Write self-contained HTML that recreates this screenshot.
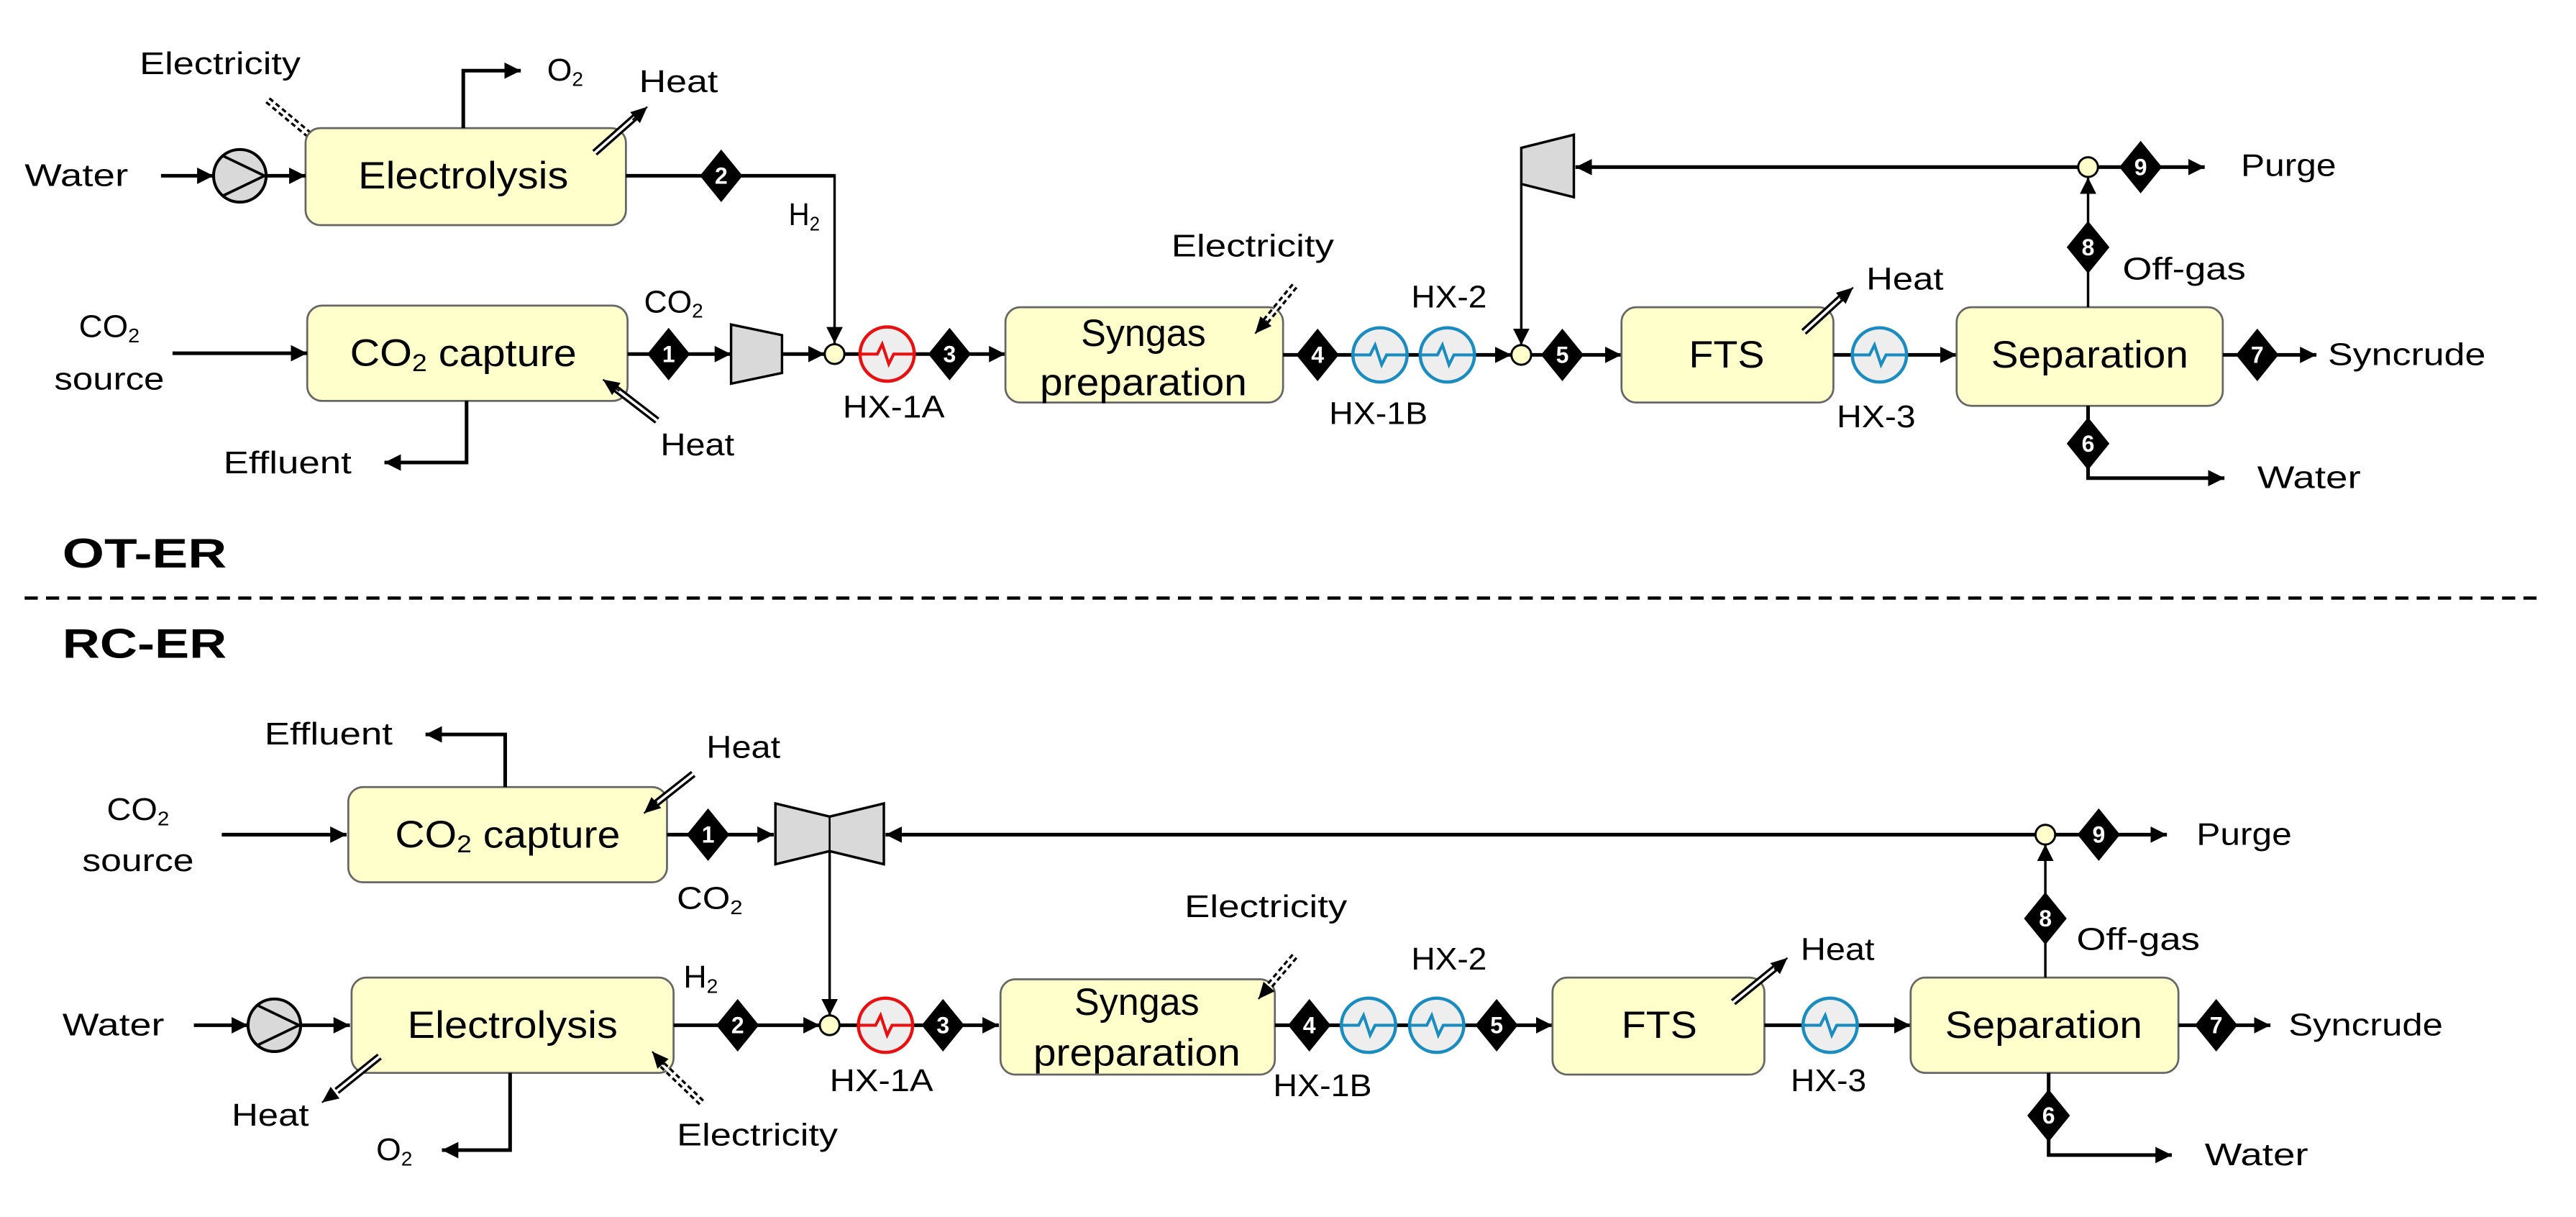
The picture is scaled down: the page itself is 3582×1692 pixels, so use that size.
<!DOCTYPE html>
<html><head><meta charset="utf-8"><style>
html,body{margin:0;padding:0;background:#fff}
svg{display:block}
text{font-family:"Liberation Sans",sans-serif;fill:#000;dominant-baseline:central}
.l{font-size:19px}
.b{font-size:23px;text-anchor:middle}
.n{font-size:14px;font-weight:bold;fill:#fff;text-anchor:middle}
.t{font-size:25px;font-weight:bold}
.s{stroke:#000;stroke-width:2.2;fill:none}
.s1{stroke:#000;stroke-width:1.5;fill:none}
.box{fill:#ffffcc;stroke:#666;stroke-width:1.2}
</style></head><body>
<svg width="3582" height="1692" viewBox="0 0 1568 740.7" preserveAspectRatio="none" xmlns="http://www.w3.org/2000/svg">
<defs>
<marker id="a" markerUnits="userSpaceOnUse" markerWidth="12" markerHeight="12" refX="10" refY="5" orient="auto"><path d="M0,0 L10,5 L0,10 z" fill="#000"/></marker>
<marker id="c" markerUnits="userSpaceOnUse" markerWidth="12" markerHeight="12" refX="10" refY="5" orient="auto"><path d="M0,0.5 L10,5 L0,9.5 z" fill="#000"/></marker>
<g id="hxr"><circle r="16.5" fill="#eee" stroke="#e81010" stroke-width="2"/><path d="M-16,0 H-6 L-3,-6 L1,6 L4,0 H16" stroke="#e81010" stroke-width="1.8" fill="none"/></g>
<g id="hxb"><circle r="16.5" fill="#eee" stroke="#1a8cc0" stroke-width="2"/><path d="M-16,0 H-6 L-3,-6 L1,6 L4,0 H16" stroke="#1a8cc0" stroke-width="1.8" fill="none"/></g>
<g id="pump"><circle r="16" fill="#d9d9d9" stroke="#000" stroke-width="1.8"/><path d="M-10,-12 L15,0 L-10,12" stroke="#000" stroke-width="1.6" fill="none"/></g>
<g id="dm"><polygon points="0,-16 13,0 0,16 -13,0" fill="#000"/></g>
</defs>

<!-- ================= OT-ER ================= -->
<line x1="163" y1="61" x2="193" y2="86" stroke="#000" stroke-width="4.5" stroke-dasharray="3,2"/>
<line x1="163" y1="61" x2="193" y2="86" stroke="#fff" stroke-width="1.6"/>
<line x1="190" y1="84" x2="198" y2="92" stroke="#000" stroke-width="1" marker-end="url(#c)"/>
<text class="l" x="85" y="39" textLength="98" lengthAdjust="spacingAndGlyphs">Electricity</text>

<rect class="box" x="186" y="78" width="195" height="59" rx="9"/>
<text class="b" x="282" y="107" textLength="128" lengthAdjust="spacingAndGlyphs">Electrolysis</text>
<path class="s" d="M282,78 V43 H317" marker-end="url(#a)"/>
<text class="l" x="333" y="43" textLength="22" lengthAdjust="spacingAndGlyphs">O<tspan font-size="12" dy="5">2</tspan></text>
<line x1="362" y1="93" x2="388" y2="70" stroke="#000" stroke-width="4.5"/>
<line x1="362" y1="93" x2="388" y2="70" stroke="#fff" stroke-width="1.6"/>
<line x1="385" y1="73" x2="394" y2="65" stroke="#000" stroke-width="1" marker-end="url(#c)"/>
<text class="l" x="389" y="50" textLength="48" lengthAdjust="spacingAndGlyphs">Heat</text>

<text class="l" x="15" y="107" textLength="63" lengthAdjust="spacingAndGlyphs">Water</text>
<path class="s" d="M98,107 H130" marker-end="url(#a)"/>
<use href="#pump" x="146" y="107"/>
<path class="s" d="M162,107 H186" marker-end="url(#a)"/>

<path class="s" d="M381,107 H508"/>
<path class="s1" d="M508,106 V209" marker-end="url(#a)"/>
<use href="#dm" x="439" y="107"/><text class="n" x="439" y="107">2</text>
<text class="l" x="480" y="131" textLength="19" lengthAdjust="spacingAndGlyphs">H<tspan font-size="12" dy="5">2</tspan></text>

<rect class="box" x="187" y="186" width="195" height="58" rx="9"/>
<text class="b" x="282" y="215" textLength="138" lengthAdjust="spacingAndGlyphs">CO<tspan font-size="15" dy="6">2</tspan><tspan dy="-6"> capture</tspan></text>
<text class="l" x="48" y="199" textLength="37" lengthAdjust="spacingAndGlyphs">CO<tspan font-size="12" dy="5">2</tspan></text>
<text class="l" x="33" y="231" textLength="67" lengthAdjust="spacingAndGlyphs">source</text>
<path class="s" d="M105,215 H187" marker-end="url(#a)"/>
<path class="s" d="M284,244 V281.5 H234" marker-end="url(#a)"/>
<text class="l" x="136" y="282" textLength="78" lengthAdjust="spacingAndGlyphs">Effluent</text>
<line x1="400" y1="256" x2="374" y2="236" stroke="#000" stroke-width="4.5"/>
<line x1="400" y1="256" x2="374" y2="236" stroke="#fff" stroke-width="1.6"/>
<line x1="377" y1="238" x2="367" y2="231" stroke="#000" stroke-width="1" marker-end="url(#c)"/>
<text class="l" x="402" y="271" textLength="45" lengthAdjust="spacingAndGlyphs">Heat</text>
<text class="l" x="392" y="184" textLength="36" lengthAdjust="spacingAndGlyphs">CO<tspan font-size="12" dy="5">2</tspan></text>

<path class="s" d="M382,215.5 H445" marker-end="url(#a)"/>
<use href="#dm" x="407" y="215.5"/><text class="n" x="407" y="215.5">1</text>
<polygon points="445,197.5 476,204 476,227 445,233.5" fill="#d9d9d9" stroke="#000" stroke-width="1.5"/>
<path class="s" d="M476,215.5 H502" marker-end="url(#a)"/>
<path class="s" d="M514,215.5 H612" marker-end="url(#a)"/>
<circle cx="508" cy="215.5" r="6" fill="#ffffcc" stroke="#000" stroke-width="1.3"/>
<use href="#hxr" x="540" y="215.5"/>
<use href="#dm" x="578" y="215.5"/><text class="n" x="578" y="215.5">3</text>
<text class="l" x="513" y="248" textLength="62" lengthAdjust="spacingAndGlyphs">HX-1A</text>

<rect class="box" x="612" y="187" width="169" height="58" rx="9"/>
<text class="b" x="696" y="203" textLength="76" lengthAdjust="spacingAndGlyphs">Syngas</text>
<text class="b" x="696" y="233" textLength="126" lengthAdjust="spacingAndGlyphs">preparation</text>
<text class="l" x="713" y="150" textLength="99" lengthAdjust="spacingAndGlyphs">Electricity</text>
<line x1="788" y1="174" x2="770" y2="196" stroke="#000" stroke-width="4.5" stroke-dasharray="3,2"/>
<line x1="788" y1="174" x2="770" y2="196" stroke="#fff" stroke-width="1.6"/>
<line x1="771" y1="195" x2="764" y2="203" stroke="#000" stroke-width="1" marker-end="url(#c)"/>

<path class="s" d="M781,216 H920" marker-end="url(#a)"/>
<path class="s" d="M932,216 H987" marker-end="url(#a)"/>
<use href="#dm" x="802" y="216"/><text class="n" x="802" y="216">4</text>
<use href="#hxb" x="840" y="216"/>
<use href="#hxb" x="881" y="216"/>
<circle cx="926" cy="216" r="6" fill="#ffffcc" stroke="#000" stroke-width="1.3"/>
<use href="#dm" x="951" y="216"/><text class="n" x="951" y="216">5</text>
<text class="l" x="859" y="181" textLength="46" lengthAdjust="spacingAndGlyphs">HX-2</text>
<text class="l" x="809" y="252" textLength="60" lengthAdjust="spacingAndGlyphs">HX-1B</text>

<polygon points="926,90 958,82 958,120 926,112" fill="#d9d9d9" stroke="#000" stroke-width="1.5"/>
<path class="s1" d="M926,112 V210" marker-end="url(#a)"/>
<path class="s" d="M1265,101.7 H959" marker-end="url(#a)"/>

<rect class="box" x="987" y="187" width="129" height="58" rx="9"/>
<text class="b" x="1051" y="216" textLength="46" lengthAdjust="spacingAndGlyphs">FTS</text>
<line x1="1098" y1="202" x2="1122" y2="180" stroke="#000" stroke-width="4.5"/>
<line x1="1098" y1="202" x2="1122" y2="180" stroke="#fff" stroke-width="1.6"/>
<line x1="1120" y1="182" x2="1128" y2="175" stroke="#000" stroke-width="1" marker-end="url(#c)"/>
<text class="l" x="1136" y="170" textLength="47" lengthAdjust="spacingAndGlyphs">Heat</text>
<path class="s" d="M1116,216 H1191" marker-end="url(#a)"/>
<use href="#hxb" x="1144" y="216"/>
<text class="l" x="1118" y="254" textLength="48" lengthAdjust="spacingAndGlyphs">HX-3</text>

<rect class="box" x="1191" y="187" width="162" height="60" rx="9"/>
<text class="b" x="1272" y="216" textLength="120" lengthAdjust="spacingAndGlyphs">Separation</text>
<path class="s" d="M1353,216 H1410" marker-end="url(#a)"/>
<use href="#dm" x="1374" y="216"/><text class="n" x="1374" y="216">7</text>
<text class="l" x="1417" y="216" textLength="96" lengthAdjust="spacingAndGlyphs">Syncrude</text>
<path class="s1" d="M1271,187 V108" marker-end="url(#a)"/>
<use href="#dm" x="1271" y="150.5"/><text class="n" x="1271" y="150.5">8</text>
<text class="l" x="1292" y="164" textLength="75" lengthAdjust="spacingAndGlyphs">Off-gas</text>
<path class="s" d="M1277,101.7 H1342" marker-end="url(#a)"/>
<circle cx="1271" cy="101.7" r="6" fill="#ffffcc" stroke="#000" stroke-width="1.3"/>
<use href="#dm" x="1303" y="101.7"/><text class="n" x="1303" y="101.7">9</text>
<text class="l" x="1364" y="101" textLength="58" lengthAdjust="spacingAndGlyphs">Purge</text>
<path class="s" d="M1271,247 V291 H1354" marker-end="url(#a)"/>
<use href="#dm" x="1271" y="270"/><text class="n" x="1271" y="270">6</text>
<text class="l" x="1374" y="291" textLength="63" lengthAdjust="spacingAndGlyphs">Water</text>

<text class="t" x="38" y="337" textLength="100" lengthAdjust="spacingAndGlyphs">OT-ER</text>
<line x1="15" y1="364" x2="1548" y2="364" stroke="#000" stroke-width="2" stroke-dasharray="8,5"/>
<text class="t" x="38" y="392" textLength="100" lengthAdjust="spacingAndGlyphs">RC-ER</text>

<!-- ================= RC-ER ================= -->
<rect class="box" x="212" y="479" width="194" height="58" rx="9"/>
<text class="b" x="309" y="508" textLength="137" lengthAdjust="spacingAndGlyphs">CO<tspan font-size="15" dy="6">2</tspan><tspan dy="-6"> capture</tspan></text>
<path class="s" d="M307.5,479 V447 H259" marker-end="url(#a)"/>
<text class="l" x="161" y="447" textLength="78" lengthAdjust="spacingAndGlyphs">Effluent</text>
<line x1="422" y1="471" x2="398" y2="490" stroke="#000" stroke-width="4.5"/>
<line x1="422" y1="471" x2="398" y2="490" stroke="#fff" stroke-width="1.6"/>
<line x1="400" y1="488" x2="392" y2="495" stroke="#000" stroke-width="1" marker-end="url(#c)"/>
<text class="l" x="430" y="455" textLength="45" lengthAdjust="spacingAndGlyphs">Heat</text>
<text class="l" x="65" y="493" textLength="38" lengthAdjust="spacingAndGlyphs">CO<tspan font-size="12" dy="5">2</tspan></text>
<text class="l" x="50" y="524" textLength="68" lengthAdjust="spacingAndGlyphs">source</text>
<path class="s" d="M135,508 H211" marker-end="url(#a)"/>
<path class="s" d="M406,508 H471" marker-end="url(#a)"/>
<use href="#dm" x="431" y="508"/><text class="n" x="431" y="508">1</text>
<text class="l" x="412" y="547" textLength="40" lengthAdjust="spacingAndGlyphs">CO<tspan font-size="12" dy="5">2</tspan></text>
<polygon points="472,489 505,497 538,489 538,526 505,518 472,526" fill="#d9d9d9" stroke="#000" stroke-width="1.5"/>
<line x1="505" y1="497" x2="505" y2="518" stroke="#000" stroke-width="1.2"/>
<path class="s" d="M1239,508 H539" marker-end="url(#a)"/>
<path class="s1" d="M505,518 V618" marker-end="url(#a)"/>

<rect class="box" x="214" y="595" width="196" height="58" rx="9"/>
<text class="b" x="312" y="624" textLength="128" lengthAdjust="spacingAndGlyphs">Electrolysis</text>
<text class="l" x="38" y="624" textLength="62" lengthAdjust="spacingAndGlyphs">Water</text>
<path class="s" d="M118,624 H151" marker-end="url(#a)"/>
<use href="#pump" x="167" y="624"/>
<path class="s" d="M183,624 H213" marker-end="url(#a)"/>
<line x1="231" y1="643" x2="205" y2="664" stroke="#000" stroke-width="4.5"/>
<line x1="231" y1="643" x2="205" y2="664" stroke="#fff" stroke-width="1.6"/>
<line x1="204" y1="665" x2="196" y2="671" stroke="#000" stroke-width="1" marker-end="url(#c)"/>
<text class="l" x="141" y="679" textLength="47" lengthAdjust="spacingAndGlyphs">Heat</text>
<path class="s" d="M310.5,653 V700 H269" marker-end="url(#a)"/>
<text class="l" x="229" y="700" textLength="22" lengthAdjust="spacingAndGlyphs">O<tspan font-size="12" dy="5">2</tspan></text>
<line x1="427" y1="671" x2="402" y2="647" stroke="#000" stroke-width="4.5" stroke-dasharray="3,2"/>
<line x1="427" y1="671" x2="402" y2="647" stroke="#fff" stroke-width="1.6"/>
<line x1="404" y1="648" x2="397" y2="640" stroke="#000" stroke-width="1" marker-end="url(#c)"/>
<text class="l" x="412" y="691" textLength="98" lengthAdjust="spacingAndGlyphs">Electricity</text>
<text class="l" x="416" y="595" textLength="21" lengthAdjust="spacingAndGlyphs">H<tspan font-size="12" dy="5">2</tspan></text>
<path class="s" d="M410,624 H499" marker-end="url(#a)"/>
<use href="#dm" x="449" y="624"/><text class="n" x="449" y="624">2</text>
<circle cx="505" cy="624" r="6" fill="#ffffcc" stroke="#000" stroke-width="1.3"/>
<path class="s" d="M511,624 H608" marker-end="url(#a)"/>
<use href="#hxr" x="539" y="624"/>
<use href="#dm" x="574" y="624"/><text class="n" x="574" y="624">3</text>
<text class="l" x="505" y="658" textLength="63" lengthAdjust="spacingAndGlyphs">HX-1A</text>

<rect class="box" x="609" y="596" width="167" height="58" rx="9"/>
<text class="b" x="692" y="610" textLength="76" lengthAdjust="spacingAndGlyphs">Syngas</text>
<text class="b" x="692" y="641" textLength="126" lengthAdjust="spacingAndGlyphs">preparation</text>
<text class="l" x="721" y="552" textLength="99" lengthAdjust="spacingAndGlyphs">Electricity</text>
<line x1="788" y1="582" x2="771" y2="602" stroke="#000" stroke-width="4.5" stroke-dasharray="3,2"/>
<line x1="788" y1="582" x2="771" y2="602" stroke="#fff" stroke-width="1.6"/>
<line x1="772" y1="601" x2="766" y2="608" stroke="#000" stroke-width="1" marker-end="url(#c)"/>

<path class="s" d="M776,624 H945" marker-end="url(#a)"/>
<use href="#dm" x="797" y="624"/><text class="n" x="797" y="624">4</text>
<use href="#hxb" x="833" y="624"/>
<use href="#hxb" x="874.5" y="624"/>
<use href="#dm" x="911" y="624"/><text class="n" x="911" y="624">5</text>
<text class="l" x="859" y="584" textLength="46" lengthAdjust="spacingAndGlyphs">HX-2</text>
<text class="l" x="775" y="661" textLength="60" lengthAdjust="spacingAndGlyphs">HX-1B</text>

<rect class="box" x="945" y="595" width="129" height="59" rx="9"/>
<text class="b" x="1010" y="624" textLength="46" lengthAdjust="spacingAndGlyphs">FTS</text>
<line x1="1055" y1="610" x2="1082" y2="588" stroke="#000" stroke-width="4.5"/>
<line x1="1055" y1="610" x2="1082" y2="588" stroke="#fff" stroke-width="1.6"/>
<line x1="1080" y1="590" x2="1088" y2="583" stroke="#000" stroke-width="1" marker-end="url(#c)"/>
<text class="l" x="1096" y="578" textLength="45" lengthAdjust="spacingAndGlyphs">Heat</text>
<path class="s" d="M1074,624 H1163" marker-end="url(#a)"/>
<use href="#hxb" x="1114" y="624"/>
<text class="l" x="1090" y="658" textLength="46" lengthAdjust="spacingAndGlyphs">HX-3</text>

<rect class="box" x="1163" y="595" width="163" height="58" rx="9"/>
<text class="b" x="1244" y="624" textLength="120" lengthAdjust="spacingAndGlyphs">Separation</text>
<path class="s" d="M1326,624 H1382" marker-end="url(#a)"/>
<use href="#dm" x="1349" y="624"/><text class="n" x="1349" y="624">7</text>
<text class="l" x="1393" y="624" textLength="94" lengthAdjust="spacingAndGlyphs">Syncrude</text>
<path class="s1" d="M1245,595 V514" marker-end="url(#a)"/>
<use href="#dm" x="1245" y="559"/><text class="n" x="1245" y="559">8</text>
<text class="l" x="1264" y="572" textLength="75" lengthAdjust="spacingAndGlyphs">Off-gas</text>
<path class="s" d="M1251,508 H1319" marker-end="url(#a)"/>
<circle cx="1245" cy="508" r="6" fill="#ffffcc" stroke="#000" stroke-width="1.3"/>
<use href="#dm" x="1277.5" y="508"/><text class="n" x="1277.5" y="508">9</text>
<text class="l" x="1337" y="508" textLength="58" lengthAdjust="spacingAndGlyphs">Purge</text>
<path class="s" d="M1247,653 V703 H1322" marker-end="url(#a)"/>
<use href="#dm" x="1247" y="679"/><text class="n" x="1247" y="679">6</text>
<text class="l" x="1342" y="703" textLength="63" lengthAdjust="spacingAndGlyphs">Water</text>
</svg>
</body></html>
